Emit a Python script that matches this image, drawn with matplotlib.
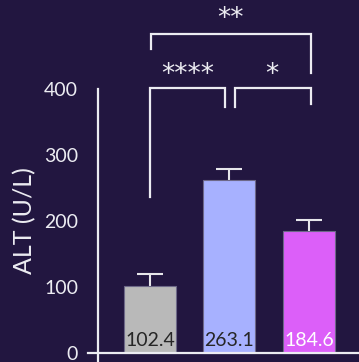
import numpy as np
import matplotlib.pyplot as plt

plt.rcParams["font.family"] = ["Lato", "DejaVu Sans"]

# group means, error bars and bar colours
groups = ["Control", "Model", "Treated"]
alt_mean = [102.4, 263.1, 184.6]
alt_err = [18, 16, 18]
bar_colors = ["#b9b9b9", "#a7b1ff", "#dc5ff9"]
label_colors = ["#262626", "#262626", "#ffffff"]
y_ticks = [0, 100, 200, 300, 400]

# significance brackets: (left group, right group, stars)
comparisons = [(0, 1, "****"), (1, 2, "*"), (0, 2, "**")]

bg = "#221640"
fg = "#ececf2"

fig = plt.figure(figsize=(3.59, 3.62), dpi=100, facecolor=bg)
ax = fig.add_axes([88 / 359, 0, 271 / 359, 1])
ax.set_facecolor(bg)

x = np.arange(len(groups))
ax.bar(x, alt_mean, width=0.655, color=bar_colors, edgecolor="#6d6888",
       linewidth=0.8, zorder=2)
_, caps, _ = ax.errorbar(x, alt_mean, yerr=[np.zeros(3), alt_err], fmt="none",
                         ecolor="#e6e6ea", elinewidth=1.5, capsize=9.5,
                         capthick=1.5, zorder=1)
caps[0].set_visible(False)

for xi, v, c in zip(x, alt_mean, label_colors):
    ax.text(xi, 20, f"{v}", ha="center", va="center", fontsize=14,
            color=c, zorder=3)

ax.set_xlim(-0.78, 2.63)
ax.set_ylim(-13.2, 535.3)

# axes drawn as crossing lines, Prism style
for side in ["top", "right"]:
    ax.spines[side].set_visible(False)
ax.spines["left"].set_position(("data", -0.66))
ax.spines["left"].set_bounds(-13.2, 400)
ax.spines["bottom"].set_position(("data", 0))
ax.spines["bottom"].set_bounds(-0.78, 2.63)
for side in ["left", "bottom"]:
    ax.spines[side].set_color(fg)
    ax.spines[side].set_linewidth(1.6)

ax.set_xticks([])
ax.set_yticks(y_ticks)
ax.tick_params(axis="y", length=0, pad=14, labelsize=14, labelcolor=fg)
ax.set_ylabel("ALT (U/L)", fontsize=18, color=fg)
ax.yaxis.set_label_coords(-0.19, 0.39)

# bracket layout: x ends, bar height, leg ends, star position
bracket_style = dict(color=fg, lw=1.6, clip_on=False, solid_joinstyle="miter")
brackets = {
    (0, 1): dict(x0=0.0, x1=0.945, y=401.5, l0=236.8, l1=373, tx=0.48, ty=421),
    (1, 2): dict(x0=1.07, x1=2.02, y=401.5, l0=373, l1=377.7, tx=1.53, ty=421),
    (0, 2): dict(x0=0.01, x1=2.02, y=483.8, l0=461, l1=424, tx=1.01, ty=507),
}
for a, b, stars in comparisons:
    br = brackets[(a, b)]
    ax.plot([br["x0"], br["x0"], br["x1"], br["x1"]],
            [br["l0"], br["y"], br["y"], br["l1"]], **bracket_style)
    ax.text(br["tx"], br["ty"], stars, ha="center", va="center",
            fontsize=19, color=fg, family="DejaVu Sans")

fig.savefig("out.png", dpi=100, facecolor=bg)
